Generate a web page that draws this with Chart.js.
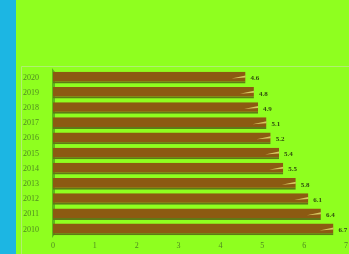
<!DOCTYPE html>
<html>
<head>
<meta charset="utf-8">
<script src="https://cdn.jsdelivr.net/npm/chart.js@4"></script>
<style>
  html, body { margin: 0; padding: 0; background: #8fff1f; }
  #wrap { width: 349px; height: 254px; position: relative; }
</style>
</head>
<body>
<div id="wrap"><canvas id="myChart" width="349" height="254"></canvas></div>
<script>
// data
const anos = ['2020', '2019', '2018', '2017', '2016', '2015', '2014', '2013', '2012', '2011', '2010'];
const valores = [4.6, 4.8, 4.9, 5.1, 5.2, 5.4, 5.5, 5.8, 6.1, 6.4, 6.7];
const ticksX = [0, 1, 2, 3, 4, 5, 6, 7];

const fundo = {
    id: 'fundo',
    beforeDraw(chart) {
        const c = chart.ctx;
        c.save();
        c.fillStyle = '#8fff1f';
        c.fillRect(0, 0, chart.width, chart.height);
        c.fillStyle = '#1cb6e3';
        c.fillRect(0, 0, 16, chart.height);
        // moldura
        c.strokeStyle = '#b0f070';
        c.lineWidth = 1;
        c.beginPath();
        c.moveTo(21.5, chart.height);
        c.lineTo(21.5, 66.5);
        c.lineTo(chart.width, 66.5);
        c.stroke();
        c.restore();
    },
    beforeDatasetsDraw(chart) {
        const c = chart.ctx;
        const a = chart.chartArea;
        c.save();
        // parede lateral
        c.fillStyle = '#5cb81a';
        c.beginPath();
        c.moveTo(a.left - 1, a.top - 2);
        c.lineTo(a.left + 2, a.top + 2);
        c.lineTo(a.left + 2, a.bottom - 3);
        c.lineTo(a.left - 1, a.bottom + 1);
        c.closePath();
        c.fill();
        c.restore();
    }
};

const rotulos = {
    id: 'rotulos',
    afterDatasetsDraw(chart) {
        const c = chart.ctx;
        const meta = chart.getDatasetMeta(0);
        c.save();
        c.font = 'bold 7px "Liberation Serif"';
        c.textBaseline = 'middle';
        meta.data.forEach((bar, i) => {
            // brilho na ponta
            c.fillStyle = '#d6c860';
            c.beginPath();
            c.moveTo(bar.x - 14, bar.y + 1);
            c.lineTo(bar.x, bar.y - 2);
            c.lineTo(bar.x, bar.y);
            c.closePath();
            c.fill();
            c.fillStyle = '#2f4a10';
            c.fillText(valores[i].toFixed(1), bar.x + 5, bar.y + 1);
        });
        c.restore();
    }
};

function grafico() {
    const ctx = document.getElementById('myChart');
    new Chart(ctx, {
        type: 'bar',
        data: {
            labels: anos,
            datasets: [{
                data: valores,
                backgroundColor: '#8c5a12',
                borderColor: '#5e7a16',
                borderWidth: {top: 0, bottom: 2, left: 0, right: 0},
                borderSkipped: false,
                barPercentage: 0.85,
                categoryPercentage: 0.9
            }]
        },
        options: {
            indexAxis: 'y',
            responsive: false,
            animation: false,
            layout: { padding: { top: 70, left: 22, right: 3, bottom: 0 } },
            plugins: { legend: { display: false }, tooltip: { enabled: false } },
            scales: {
                x: {
                    min: 0, max: 7,
                    afterBuildTicks(axis) { axis.ticks = ticksX.map(v => ({ value: v })); },
                    afterFit(axis) { axis.height = 17; },
                    grid: { display: false },
                    border: { display: false },
                    ticks: { color: '#4f8a22', font: { family: 'Liberation Serif', size: 8 }, padding: -4, maxRotation: 0 }
                },
                y: {
                    afterFit(axis) { axis.width = 31; },
                    grid: { display: false },
                    border: { display: false },
                    ticks: { color: '#4f8a22', font: { family: 'Liberation Serif', size: 8 }, padding: 6 }
                }
            }
        },
        plugins: [fundo, rotulos]
    });
}

grafico();
</script>
</body>
</html>
